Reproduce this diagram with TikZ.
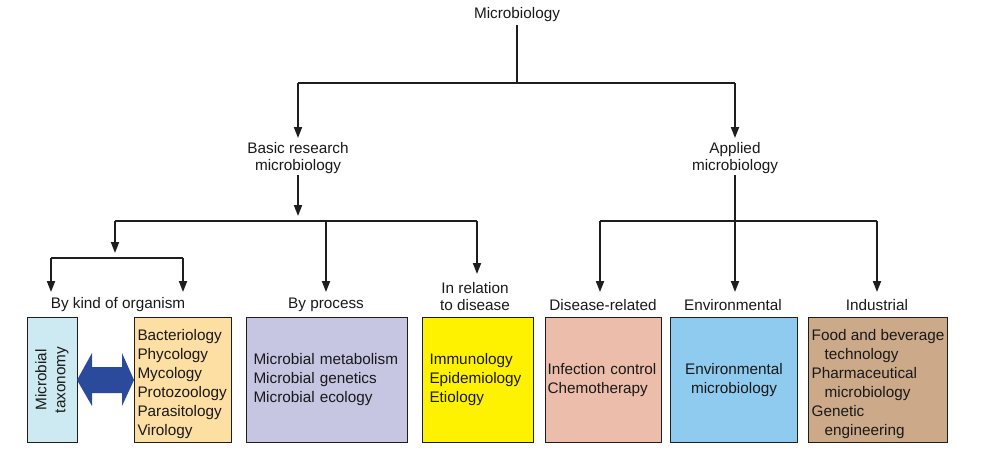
\documentclass[tikz,border=0pt]{standalone}
\usepackage{fontspec}
\setmainfont{Liberation Sans}
\usetikzlibrary{arrows.meta}
\definecolor{cTax}{HTML}{CDE9F1}
\definecolor{cOrg}{HTML}{FDDFA3}
\definecolor{cPur}{HTML}{C6C5E2}
\definecolor{cYel}{HTML}{FFF200}
\definecolor{cPnk}{HTML}{EDBDAB}
\definecolor{cBlu}{HTML}{8ECBEE}
\definecolor{cBrn}{HTML}{CBA989}
\definecolor{cDbl}{HTML}{2C4A9C}
\definecolor{cLine}{HTML}{1E1E1E}
\newcommand{\topstrut}{\rule{0pt}{20pt}}
\hyphenpenalty=10000
\tikzset{
  lbl/.style={font=\fontsize{15.3}{17}\selectfont, align=center, inner sep=0pt, text=black!90},
  conn/.style={draw=cLine, line width=1.9pt},
  arr/.style={conn, -{Triangle[length=11pt,width=8pt]}},
  box/.style={draw=cLine, line width=1pt, anchor=north west, minimum height=125pt,
    inner ysep=0pt, font=\fontsize{15.3}{19}\selectfont, text=black!90},
}
\begin{document}
\begin{tikzpicture}[x=1pt,y=-1pt]
\useasboundingbox (0,0) rectangle (991,475);
% labels
\node[lbl] (mb) at (517,15) {Microbiology};
\node[lbl] (basic) at (298,158) {Basic research\\microbiology};
\node[lbl] (appl) at (735,158) {Applied\\microbiology};
\node[lbl] (kind) at (118,305) {By kind of organism};
\node[lbl] (proc) at (326,305) {By process};
\node[lbl] (dis) at (475,297) {In relation\\to disease};
\node[lbl] (drel) at (603,305) {Disease-related};
\node[lbl] (env) at (733,305) {Environmental};
\node[lbl] (ind) at (877,305) {Industrial};
% coordinates
\coordinate (t0) at (517,25);
\coordinate (t1) at (517,83);
\coordinate (tl) at (298,83);
\coordinate (tr) at (735,83);
\coordinate (tlA) at (298,138);
\coordinate (trA) at (735,138);
\coordinate (b0) at (298,175);
\coordinate (b1) at (298,216);
\coordinate (bl) at (115,221);
\coordinate (bm) at (326,221);
\coordinate (br) at (477,221);
\coordinate (blA) at (115,253);
\coordinate (bmA) at (326,292);
\coordinate (brA) at (477,274);
\coordinate (kl) at (51,258);
\coordinate (kr) at (183,258);
\coordinate (klA) at (51,292);
\coordinate (krA) at (183,292);
\coordinate (a0) at (735,175);
\coordinate (al) at (600,221);
\coordinate (ar) at (877,221);
\coordinate (amA) at (735,292);
\coordinate (alA) at (600,292);
\coordinate (arA) at (877,292);
% connectors
\draw[conn] (t0) -- (t1);
\draw[conn] (tl) -- (tr);
\draw[arr] (tl) -- (tlA);
\draw[arr] (tr) -- (trA);
\draw[arr] (b0) -- (b1);
\draw[conn] (bl) -- (br);
\draw[arr] (bl) -- (blA);
\draw[arr] (bm) -- (bmA);
\draw[arr] (br) -- (brA);
\draw[conn] (kl) -- (kr);
\draw[arr] (kl) -- (klA);
\draw[arr] (kr) -- (krA);
\draw[arr] (a0) -- (amA);
\draw[conn] (al) -- (ar);
\draw[arr] (al) -- (alA);
\draw[arr] (ar) -- (arA);
% boxes
\node[box, fill=cTax, minimum width=50pt] (tax) at (27,317) {};
\node[lbl, rotate=90, font=\fontsize{15.3}{19}\selectfont] (taxt) at (52,380) {Microbial\\taxonomy};
\node[box, fill=cOrg, text width=91pt, inner xsep=3pt, align=left] (org) at (134,317)
  {\topstrut Bacteriology\\Phycology\\Mycology\\Protozoology\\Parasitology\\Virology};
\node[box, fill=cPur, text width=147pt, inner xsep=7pt, align=left] (pur) at (246,317)
  {Microbial metabolism\\Microbial genetics\\Microbial ecology\\[2pt]};
\node[box, fill=cYel, text width=97pt, inner xsep=7pt, align=left] (yel) at (422,317)
  {Immunology\\Epidemiology\\Etiology\\[2pt]};
\node[box, fill=cPnk, text width=112pt, inner xsep=2pt, align=left] (pnk) at (545,317)
  {Infection control\\Chemotherapy};
\node[box, fill=cBlu, text width=123pt, inner xsep=2pt, align=center] (blu) at (670,317)
  {Environmental\\microbiology};
\node[box, fill=cBrn, minimum width=139pt, inner xsep=0pt, align=left] (brn) at (808,317)
  {\topstrut Food and beverage\\\hspace*{13pt}technology\\Pharmaceutical\\\hspace*{13pt}microbiology\\Genetic\\\hspace*{13pt}engineering};
% double arrow
\fill[cDbl] (77,380) -- (92,353) -- (92,367) -- (122,367) -- (122,353) -- (134,380)
  -- (122,406) -- (122,393) -- (92,393) -- (92,406) -- cycle;
\end{tikzpicture}
\end{document}
